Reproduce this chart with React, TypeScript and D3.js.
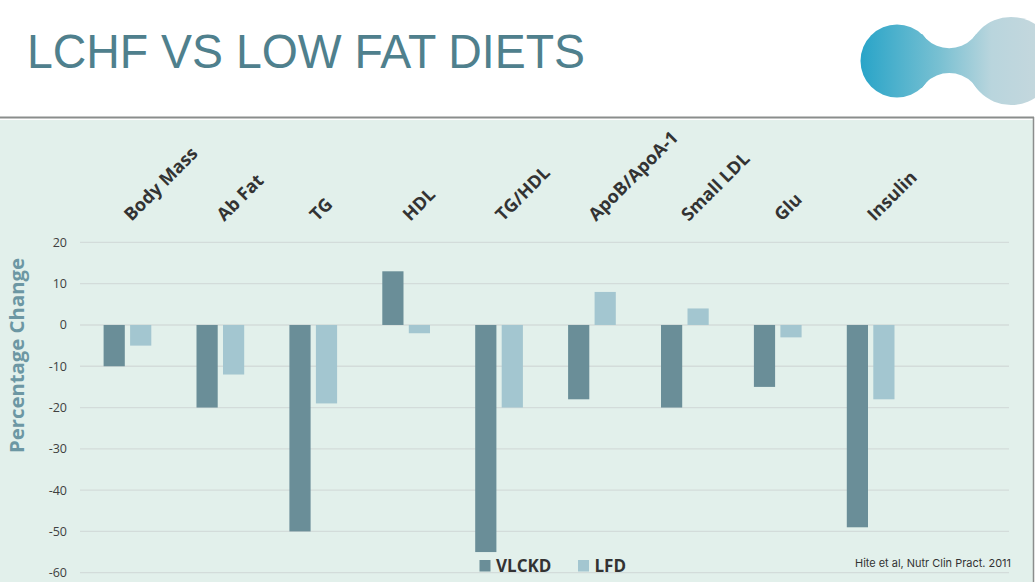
import React from "react";
import * as d3 from "d3";

const categories = ["Body Mass", "Ab Fat", "TG", "HDL", "TG/HDL", "ApoB/ApoA-1", "Small LDL", "Glu", "Insulin"];
const seriesNames = ["VLCKD", "LFD"];
const vlckd = [-10, -20, -50, 13, -55, -18, -20, -15, -49];
const lfd = [-5, -12, -19, -2, -20, 8, 4, -3, -18];
const yTicks = [20, 10, 0, -10, -20, -30, -40, -50, -60];

const W = 1035;
const H = 582;
const colors: Record<string, string> = { VLCKD: "#6a8e98", LFD: "#a3c6d0" };

export default function App() {
  const plotLeft = 80;
  const plotRight = 1009;
  const slots = 10; // the plot keeps one empty slot on the right
  const step = (plotRight - plotLeft) / slots;
  const x0 = d3
    .scaleBand<string>()
    .domain(categories)
    .range([plotLeft, plotLeft + step * categories.length])
    .padding(0);
  const x1 = d3
    .scaleBand<string>()
    .domain(seriesNames)
    .range([23.6, 71.3])
    .paddingInner(0.2)
    .paddingOuter(0);
  const y = d3.scaleLinear().domain([-60, 20]).range([572.7, 242.4]);

  const data = categories.map((c, i) => ({ c, VLCKD: vlckd[i], LFD: lfd[i] }));

  return (
    <svg
      width={W}
      height={H}
      style={{ position: "absolute", left: 0, top: 0, display: "block" }}
    >
      <defs>
        <linearGradient id="logoGrad" gradientUnits="userSpaceOnUse" x1={860} y1={0} x2={1035} y2={0}>
          <stop offset="0" stopColor="#28a4c8" />
          <stop offset="0.45" stopColor="#78c0d2" />
          <stop offset="0.75" stopColor="#b9d5dd" />
          <stop offset="1" stopColor="#c3d7dd" />
        </linearGradient>
        <mask id="neckMask" maskUnits="userSpaceOnUse" x={880} y={0} width={155} height={120}>
          <rect x={880} y={0} width={155} height={120} fill="white" />
          <circle cx={949.2} cy={15.7} r={32.6} fill="black" />
          <circle cx={949.2} cy={105.6} r={32.6} fill="black" />
        </mask>
      </defs>
      <rect x={0} y={0} width={W} height={H} fill="#ffffff" />

      {/* Title */}
      <text
        x={27}
        y={68}
        fontFamily="Liberation Sans, Arial, sans-serif"
        fontSize={48}
        fill="#4f808d"
        textLength={558}
        lengthAdjust="spacingAndGlyphs"
      >
        LCHF VS LOW FAT DIETS
      </text>

      {/* Logo */}
      <g fill="url(#logoGrad)">
        <circle cx={897} cy={61} r={36.5} />
        <circle cx={1011} cy={61} r={44} />
        <rect x={920} y={34} width={60} height={54} mask="url(#neckMask)" />
      </g>

      {/* Panel */}
      <rect x={0} y={119} width={1033} height={H - 119} fill="#e2f0eb" />
      <line x1={0} x2={1034} y1={117.5} y2={117.5} stroke="#8a8d8c" strokeWidth={2} />
      <line x1={0} x2={1034} y1={119.5} y2={119.5} stroke="#ffffff" strokeWidth={1} />
      <line x1={1033.5} x2={1033.5} y1={117} y2={H} stroke="#8a8d8c" strokeWidth={1.5} />

      {/* Gridlines & tick labels */}
      {yTicks.map((t) => (
        <g key={t}>
          <line x1={plotLeft} x2={plotRight} y1={y(t)} y2={y(t)} stroke="#d3dcda" strokeWidth={1.3} />
          <text
            x={67}
            y={y(t) + 4.5}
            textAnchor="end"
            fontFamily="Open Sans, sans-serif"
            fontSize={12.5}
            fill="#404040"
          >
            {t}
          </text>
        </g>
      ))}

      {/* Y axis title */}
      <text
        transform={`translate(24,355.5) rotate(-90)`}
        textAnchor="middle"
        fontFamily="Open Sans, sans-serif"
        fontWeight="bold"
        fontSize={19}
        fill="#6c97a3"
        textLength={195}
        lengthAdjust="spacingAndGlyphs"
      >
        Percentage Change
      </text>

      {/* Bars */}
      {data.map((d) => (
        <g key={d.c} transform={`translate(${x0(d.c)},0)`}>
          {seriesNames.map((s) => {
            const v = (d as any)[s] as number;
            return (
              <rect
                key={s}
                x={x1(s)}
                width={x1.bandwidth()}
                y={y(Math.max(0, v))}
                height={Math.abs(y(v) - y(0))}
                fill={colors[s]}
              />
            );
          })}
        </g>
      ))}

      {/* Category labels */}
      {categories.map((c) => (
        <text
          key={c}
          transform={`translate(${(x0(c) as number) + x0.bandwidth() / 2 + 5},222) rotate(-45)`}
          fontFamily="Open Sans, sans-serif"
          fontWeight="bold"
          fontSize={18}
          fill="#333333"
        >
          {c}
        </text>
      ))}

      {/* Legend */}
      {seriesNames.map((s, i) => {
        const lx = i === 0 ? 479.5 : 578;
        return (
          <g key={s}>
            <rect x={lx} y={560} width={11} height={11.5} fill={colors[s]} />
            <text
              x={lx + 16.5}
              y={571.5}
              fontFamily="Open Sans, sans-serif"
              fontWeight="bold"
              fontSize={17}
              fill="#333333"
            >
              {s}
            </text>
          </g>
        );
      })}

      {/* Citation */}
      <text
        x={855}
        y={566.5}
        fontFamily="Inter, sans-serif"
        fontSize={11}
        fill="#333333"
        textLength={156}
        lengthAdjust="spacingAndGlyphs"
      >
        Hite et al, Nutr Clin Pract. 2011
      </text>
    </svg>
  );
}
